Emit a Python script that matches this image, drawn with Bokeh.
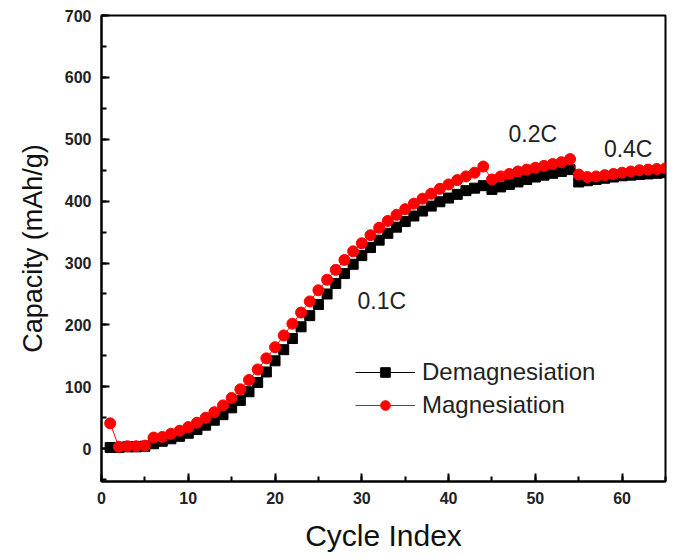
from bokeh.plotting import figure
from bokeh.models import Range1d, Legend, LegendItem, FixedTicker
from bokeh.core.properties import value
from bokeh.embed import file_html
from bokeh.resources import INLINE

# Cycle numbers and specific capacities (mAh/g)
cycles = list(range(1, 66))

demagnesiation = [
    2, 2, 3, 3, 4, 8, 12, 16, 20, 25,
    31, 38, 46, 55, 66, 78, 92, 107, 124, 142,
    160, 178, 197, 215, 233, 250, 267, 283, 298, 312,
    325, 337, 348, 358, 367, 376, 384, 392, 399, 405,
    411, 417, 421, 425, 419, 423, 427, 431, 435, 439,
    442, 445, 448, 451, 431, 433, 435, 437, 439, 441,
    442, 443, 444, 445, 446,
]

magnesiation = [
    41, 3, 4, 4, 5, 18, 19, 24, 29, 35,
    42, 50, 59, 70, 82, 96, 111, 128, 146, 164,
    183, 202, 220, 238, 256, 273, 289, 305, 319, 332,
    345, 357, 368, 378, 387, 396, 404, 412, 420, 427,
    434, 440, 446, 456, 435, 440, 444, 448, 451, 454,
    457, 460, 463, 468, 443, 439, 440, 442, 444, 446,
    448, 450, 451, 452, 453,
]

# C-rate annotations
rate_labels = ["0.1C", "0.2C", "0.4C"]
rate_label_x = [32.3, 49.7, 60.7]
rate_label_y = [239, 508, 485]

x_ticks = [0, 10, 20, 30, 40, 50, 60]
y_ticks = [0, 100, 200, 300, 400, 500, 600, 700]

FONT = "Liberation Sans"

p = figure(
    width=676, height=560,
    output_backend="svg", toolbar_location=None,
    x_range=Range1d(0, 65), y_range=Range1d(-53, 700),
    min_border_left=101, min_border_right=11,
    min_border_top=15, min_border_bottom=79,
)
p.background_fill_color = "white"
p.border_fill_color = "white"
p.xgrid.visible = False
p.ygrid.visible = False
p.outline_line_color = "black"
p.outline_line_width = 2

for ax in (p.xaxis[0], p.yaxis[0]):
    ax.axis_line_width = 2
    ax.axis_line_color = "black"
    ax.major_tick_in = 8
    ax.major_tick_out = 0
    ax.minor_tick_in = 5
    ax.minor_tick_out = 0
    ax.major_tick_line_width = 2
    ax.minor_tick_line_width = 2
    ax.major_label_text_font = FONT
    ax.major_label_text_font_style = "bold"
    ax.major_label_text_font_size = "16px"
    ax.major_label_text_color = "#222222"
    ax.major_label_standoff = 10
    ax.axis_label_text_font = FONT
    ax.axis_label_text_font_style = "normal"
    ax.axis_label_text_color = "#111111"

p.xaxis.ticker = FixedTicker(ticks=x_ticks, minor_ticks=list(range(0, 66, 5)))
p.yaxis.ticker = FixedTicker(ticks=y_ticks, minor_ticks=list(range(-50, 701, 50)))
p.xaxis.axis_label = "Cycle Index"
p.yaxis.axis_label = "Capacity (mAh/g)"
p.xaxis.axis_label_text_font_size = "30px"
p.yaxis.axis_label_text_font_size = "27px"
p.xaxis.axis_label_standoff = 12
p.yaxis.axis_label_standoff = 14

l1 = p.line(cycles, demagnesiation, line_color="black", line_width=1)
s1 = p.scatter(cycles, demagnesiation, marker="square", size=10,
               fill_color="black", line_color="black")
l2 = p.line(cycles, magnesiation, line_color="red", line_width=1)
s2 = p.scatter(cycles, magnesiation, marker="circle", size=11,
               fill_color="red", line_color="red")

p.text(x=rate_label_x, y=rate_label_y, text=rate_labels,
       text_font=value(FONT), text_font_size="23px", text_color="#222222",
       text_align="center", text_baseline="middle")

legend = Legend(
    items=[
        LegendItem(label="Demagnesiation", renderers=[l1, s1]),
        LegendItem(label="Magnesiation", renderers=[l2, s2]),
    ],
    location=(250, 58),
    orientation="vertical",
    background_fill_alpha=0,
    border_line_alpha=0,
    glyph_width=60,
    glyph_height=24,
    label_height=24,
    label_text_font=FONT,
    label_text_font_size="24px",
    label_text_color="#222222",
    label_standoff=7,
    spacing=5,
    padding=4,
)
p.add_layout(legend, "center")

open("out.html", "w").write(file_html(p, INLINE))
